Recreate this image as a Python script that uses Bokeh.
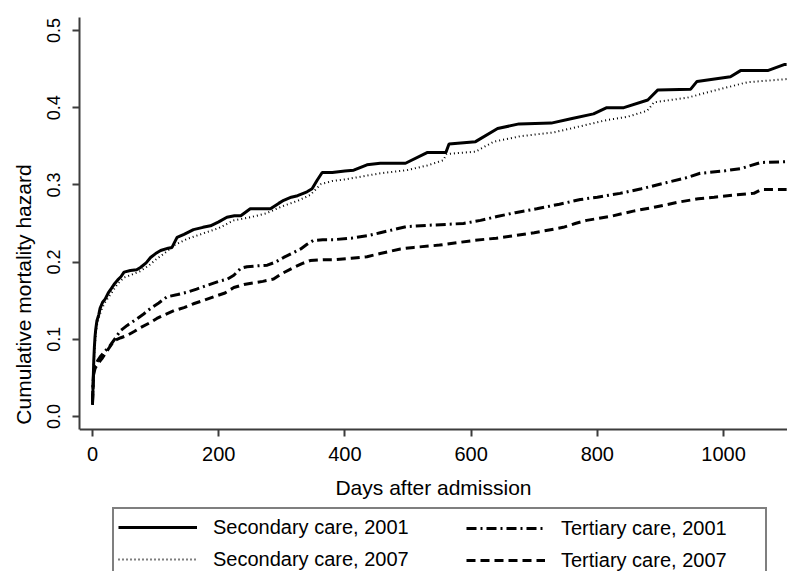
from bokeh.plotting import figure
from bokeh.models import Legend, LegendItem, FixedTicker, Range1d, LinearAxis
from bokeh.embed import file_html
from bokeh.resources import INLINE

# ---- data ----
sec2001_days = [0, 1, 2, 3, 4, 5, 7, 10, 12, 16,
                20, 25, 30, 35, 40, 45, 50, 60, 70, 76,
                85, 92, 100, 108, 120, 126, 134, 145, 160, 175,
                187, 200, 213, 225, 235, 250, 265, 282, 295, 303,
                315, 325, 340, 348, 356, 364, 380, 400, 414, 435,
                456, 496, 531, 560, 565, 607, 642, 676, 727, 760,
                794, 815, 842, 880, 896, 948, 958, 1011, 1027, 1070,
                1097, 1100]
sec2001_haz = [0.015, 0.043, 0.072, 0.090, 0.103, 0.112, 0.124, 0.132, 0.140, 0.148,
               0.152, 0.160, 0.166, 0.172, 0.177, 0.181, 0.187, 0.189, 0.190, 0.193,
               0.199, 0.206, 0.211, 0.215, 0.218, 0.219, 0.232, 0.236, 0.242, 0.245,
               0.247, 0.252, 0.258, 0.260, 0.260, 0.269, 0.269, 0.269, 0.276, 0.280,
               0.284, 0.286, 0.291, 0.295, 0.306, 0.316, 0.316, 0.318, 0.319, 0.326,
               0.328, 0.328, 0.342, 0.342, 0.353, 0.356, 0.373, 0.379, 0.380, 0.386,
               0.392, 0.400, 0.400, 0.410, 0.423, 0.424, 0.434, 0.440, 0.448, 0.448,
               0.456, 0.456]

sec2007_days = [0, 1, 2, 3, 5, 7, 10, 15, 20, 30,
                40, 50, 60, 75, 90, 100, 115, 130, 150, 175,
                200, 224, 250, 275, 300, 327, 345, 362, 380, 400,
                435, 456, 498, 530, 556, 561, 607, 636, 678, 731,
                763, 815, 847, 879, 890, 943, 985, 1038, 1100]
sec2007_haz = [0.015, 0.040, 0.068, 0.085, 0.105, 0.118, 0.128, 0.140, 0.148, 0.160,
               0.172, 0.180, 0.183, 0.188, 0.196, 0.203, 0.212, 0.222, 0.230, 0.237,
               0.244, 0.254, 0.258, 0.263, 0.272, 0.280, 0.287, 0.301, 0.305, 0.307,
               0.312, 0.315, 0.319, 0.325, 0.332, 0.340, 0.343, 0.356, 0.363, 0.368,
               0.374, 0.384, 0.388, 0.396, 0.407, 0.413, 0.422, 0.433, 0.437]

ter2001_days = [0, 1, 2, 4, 6, 8, 12, 18, 28, 36,
                44, 55, 66, 80, 92, 105, 118, 135, 150, 165,
                182, 200, 214, 224, 235, 245, 260, 277, 290, 303,
                315, 330, 340, 350, 365, 382, 410, 435, 456, 498,
                540, 588, 615, 641, 670, 704, 740, 773, 800, 836,
                870, 910, 940, 963, 1000, 1027, 1059, 1100]
ter2001_haz = [0.020, 0.045, 0.060, 0.066, 0.068, 0.072, 0.077, 0.083, 0.092, 0.101,
               0.111, 0.118, 0.124, 0.132, 0.140, 0.147, 0.155, 0.158, 0.161, 0.165,
               0.170, 0.175, 0.178, 0.183, 0.192, 0.194, 0.195, 0.196, 0.200, 0.206,
               0.211, 0.217, 0.223, 0.228, 0.229, 0.229, 0.231, 0.234, 0.238, 0.246,
               0.248, 0.250, 0.254, 0.259, 0.264, 0.269, 0.275, 0.281, 0.284, 0.289,
               0.295, 0.303, 0.309, 0.315, 0.318, 0.321, 0.329, 0.330]

ter2007_days = [0, 1, 2, 4, 6, 10, 15, 23, 34, 45,
                55, 66, 76, 90, 102, 115, 129, 145, 160, 175,
                192, 210, 224, 240, 255, 270, 287, 300, 319, 332,
                345, 365, 382, 410, 435, 456, 488, 509, 550, 604,
                640, 667, 700, 746, 765, 783, 820, 857, 890, 931,
                960, 985, 1020, 1048, 1060, 1100]
ter2007_haz = [0.018, 0.040, 0.055, 0.062, 0.065, 0.070, 0.075, 0.085, 0.098, 0.102,
               0.105, 0.110, 0.115, 0.121, 0.127, 0.132, 0.137, 0.141, 0.146, 0.150,
               0.155, 0.160, 0.167, 0.171, 0.173, 0.175, 0.178, 0.185, 0.193, 0.198,
               0.202, 0.203, 0.203, 0.205, 0.207, 0.211, 0.217, 0.219, 0.222, 0.228,
               0.231, 0.234, 0.238, 0.245, 0.250, 0.254, 0.259, 0.266, 0.271, 0.278,
               0.282, 0.284, 0.287, 0.289, 0.294, 0.294]

series_labels = ["Secondary care, 2001", "Secondary care, 2007",
                 "Tertiary care, 2001", "Tertiary care, 2007"]
x_ticks = [0, 200, 400, 600, 800, 1000]
y_ticks = [0.0, 0.1, 0.2, 0.3, 0.4, 0.5]
y_tick_labels = ["0.0", "0.1", "0.2", "0.3", "0.4", "0.5"]
x_title = "Days after admission"
y_title = "Cumulative mortality hazard"

FONT = "Liberation Sans"
AXIS_COL = "#3c3c3c"
Y_AXIS_BOTTOM = -0.0168
Y_AXIS_TOP = 0.5168

p = figure(width=787, height=571, output_backend="svg", toolbar_location=None,
           x_range=Range1d(-20.6, 1101.4), y_range=Range1d(-0.2008, Y_AXIS_TOP),
           x_axis_location=None,
           min_border_left=79, min_border_right=0, min_border_top=17,
           min_border_bottom=0)
p.outline_line_color = None
p.grid.visible = False
p.background_fill_color = "white"
p.border_fill_color = "white"

r1 = p.line(sec2001_days, sec2001_haz, line_color="black", line_width=3)
r2 = p.line(sec2007_days, sec2007_haz, line_color="black", line_width=2,
            line_dash="1 3")
r3 = p.line(ter2001_days, ter2001_haz, line_color="black", line_width=3,
            line_dash="10 4 2 4")
r4 = p.line(ter2007_days, ter2007_haz, line_color="black", line_width=3,
            line_dash="9 5")

xaxis = LinearAxis(fixed_location=Y_AXIS_BOTTOM)
p.add_layout(xaxis, "below")
yaxis = p.yaxis[0]
yaxis.bounds = (Y_AXIS_BOTTOM, Y_AXIS_TOP)

for ax in (xaxis, yaxis):
    ax.axis_line_color = AXIS_COL
    ax.axis_line_width = 2
    ax.major_tick_line_color = AXIS_COL
    ax.major_tick_line_width = 2
    ax.major_tick_out = 7
    ax.major_tick_in = 0
    ax.minor_tick_line_color = None
    ax.major_label_text_font = FONT
    ax.major_label_text_color = "black"
    ax.axis_label_text_font = FONT
    ax.axis_label_text_font_style = "normal"
    ax.axis_label_text_color = "black"
    ax.axis_label_text_font_size = "21px"

xaxis.ticker = FixedTicker(ticks=x_ticks)
xaxis.major_label_text_font_size = "20px"
xaxis.major_label_standoff = 11
xaxis.axis_label = x_title
xaxis.axis_label_standoff = 11

yaxis.ticker = FixedTicker(ticks=y_ticks)
yaxis.major_label_overrides = {t: s for t, s in zip(y_ticks, y_tick_labels)}
yaxis.major_label_orientation = "parallel"
yaxis.major_label_text_font_size = "18px"
yaxis.major_label_standoff = 12
yaxis.axis_label = y_title
yaxis.axis_label_standoff = 10

common = dict(orientation="vertical", padding=4, spacing=4, margin=0,
              glyph_width=79, glyph_height=28, label_height=28,
              label_standoff=16, label_text_font=FONT,
              label_text_font_size="20px", label_text_color="black",
              border_line_color="black", border_line_width=2)

legA = Legend(items=[LegendItem(label=series_labels[0], renderers=[r1]),
                     LegendItem(label=series_labels[1], renderers=[r2])],
              location=(33, -8), label_width=548,
              background_fill_color="white", background_fill_alpha=1.0,
              **common)
legB = Legend(items=[LegendItem(label=series_labels[2], renderers=[r3]),
                     LegendItem(label=series_labels[3], renderers=[r4])],
              location=(383, -7), label_width=170,
              border_line_alpha=0.0, background_fill_alpha=0.0,
              **common)
p.add_layout(legA)
p.add_layout(legB)

open("out.html", "w").write(file_html(p, INLINE))
